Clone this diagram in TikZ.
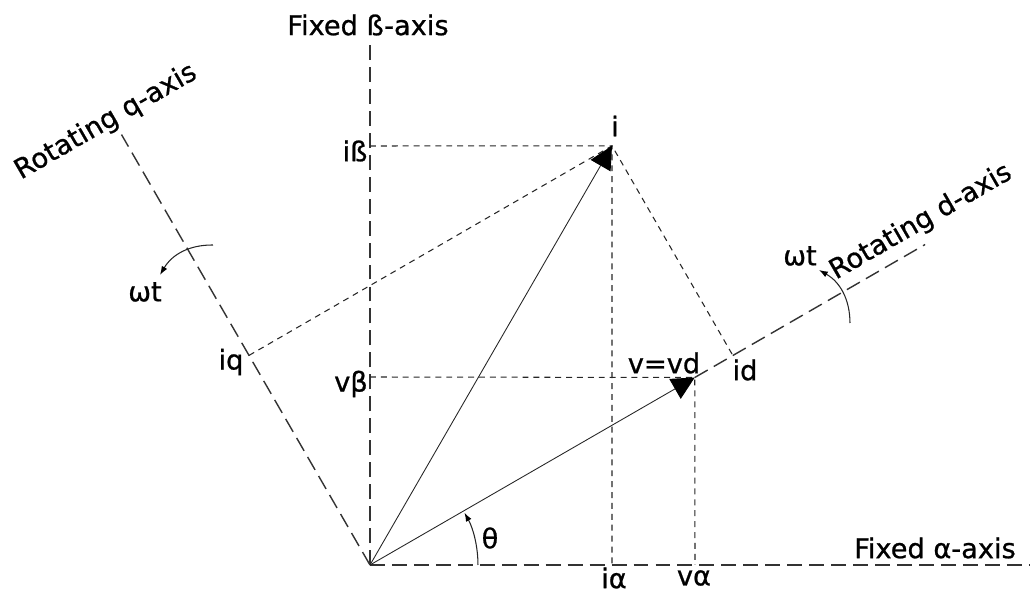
\documentclass[tikz,border=0pt]{standalone}
\usepackage{fontspec}
\setmainfont{DejaVu Sans}[FakeBold=0.8]
\usetikzlibrary{arrows.meta,calc}

\begin{document}
\begin{tikzpicture}[x=0.02cm,y=0.02cm,
  font=\fontsize{15.5}{18}\selectfont,
  axisline/.style={draw=black!80,line width=0.8pt,dash pattern=on 8.5pt off 4pt},
  projline/.style={draw=black!85,line width=0.6pt,dash pattern=on 3.4pt off 2.8pt},
  vecline/.style={draw=black!85,line width=0.5pt,-{Triangle[length=13pt,width=13pt,color=black]}},
  turnarrow/.style={draw=black!85,line width=0.6pt,-{Latex[length=5pt,width=3.5pt,color=black]}}]

\useasboundingbox (-370,-29) rectangle (661,565);

% Points
\coordinate (O) at (0,0);
\coordinate (aend) at (660,0);
\coordinate (bend) at (0,520);
\coordinate (qend) at (120:497);
\coordinate (dend) at (30:641);
\coordinate (itip) at (60:484);
\coordinate (vtip) at (30:375);
\coordinate (id) at (30:419);
\coordinate (iq) at (120:242);
\coordinate (ib) at (0,419);
\coordinate (ia) at (242,0);
\coordinate (vb) at (0,188);
\coordinate (va) at (325,0);

% Axes
\draw[axisline] (O) -- (aend);
\draw[axisline] (O) -- (bend);
\draw[axisline] (O) -- (qend);
\draw[axisline] (vtip) -- (dend);

% Projections
\draw[projline] (ib) -- (itip) -- (ia);
\draw[projline] (iq) -- (itip) -- (id);
\draw[projline] (vb) -- (vtip) -- (va);

% Vectors
\draw[vecline] (O) -- (itip);
\draw[vecline] (O) -- (vtip);

% Angles
\draw[turnarrow] (2.16cm,0) arc[start angle=0,end angle=29,radius=2.16cm];
\coordinate (wq1) at (-157,320);
\coordinate (wq2) at (-210,290);
\draw[turnarrow] (wq1) to[bend right=30] (wq2);
\coordinate (wd1) at (480,242);
\coordinate (wd2) at (449,295);
\draw[turnarrow] (wd1) to[bend right=30] (wd2);

% Labels
\node (blbl) at (-2,540) {Fixed ß-axis};
\node (albl) at (565,17) {Fixed α-axis};
\node[rotate=30] (dlbl) at (551,343) {Rotating d-axis};
\node[rotate=30] (qlbl) at (-264,443) {Rotating q-axis};
\node (ilbl) at (245,439) {i};
\node (iblbl) at (-15,414) {iß};
\node (iqlbl) at (-139,203) {iq};
\node (vblbl) at (-19,181) {vβ};
\node (vlbl) at (294,202) {v=vd};
\node (idlbl) at (375,195) {id};
\node (ialbl) at (244,-13) {iα};
\node (valbl) at (324,-13) {vα};
\node (thlbl) at (120,27) {θ};
\node (wqlbl) at (-225,273) {ωt};
\node (wdlbl) at (430,309) {ωt};

\end{tikzpicture}
\end{document}
